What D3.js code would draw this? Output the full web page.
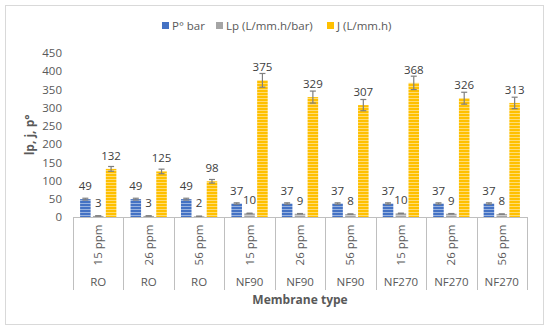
<!DOCTYPE html>
<html lang="en">
<head>
  <meta charset="UTF-8">
  <title>Membrane chart</title>
  <style>
    body { margin: 0; background: #fff; }
    svg text { font-family: "Open Sans", "Liberation Sans", sans-serif; }
  </style>
</head>
<body>
  <svg id="chart" width="550" height="332"></svg>
  <script src="https://d3js.org/d3.v7.min.js"></script>
  <script>
    // data
    const concentrations = ['15 ppm', '26 ppm', '56 ppm', '15 ppm', '26 ppm', '56 ppm', '15 ppm', '26 ppm', '56 ppm'];
    const membranes = ['RO', 'RO', 'RO', 'NF90', 'NF90', 'NF90', 'NF270', 'NF270', 'NF270'];
    const seriesNames = ['P° bar', 'Lp (L/mm.h/bar)', 'J (L/mm.h)'];
    const pressure = [49, 49, 49, 37, 37, 37, 37, 37, 37];
    const permeability = [3, 3, 2, 10, 9, 8, 10, 9, 8];
    const flux = [132, 125, 98, 375, 329, 307, 368, 326, 313];
    const pressureErr = [2.5, 2.5, 2.5, 1.9, 1.9, 1.9, 1.9, 1.9, 1.9];
    const permeabilityErr = [0.2, 0.2, 0.1, 0.5, 0.5, 0.4, 0.5, 0.5, 0.4];
    const fluxErr = [6.6, 6.3, 4.9, 18.8, 16.5, 15.4, 18.4, 16.3, 15.7];
    const yTicks = [0, 50, 100, 150, 200, 250, 300, 350, 400, 450];

    const colors = ['#4472C4', '#A5A5A5', '#FFC000'];
    const series = [pressure, permeability, flux];
    const errors = [pressureErr, permeabilityErr, fluxErr];

    const svg = d3.select('#chart');

    // outer frame
    svg.append('rect')
      .attr('x', 5.5).attr('y', 5.5)
      .attr('width', 538).attr('height', 319)
      .attr('fill', '#fff').attr('stroke', '#d9d9d9');

    // stripe patterns
    const defs = svg.append('defs');
    colors.forEach((c, i) => {
      const p = defs.append('pattern')
        .attr('id', 'stripe' + i)
        .attr('patternUnits', 'userSpaceOnUse')
        .attr('width', 6).attr('height', 3);
      p.append('rect').attr('width', 6).attr('height', 3).attr('fill', c);
      p.append('rect').attr('y', 2).attr('width', 6).attr('height', 1)
        .attr('fill', '#fff').attr('opacity', 0.45);
    });

    const plotLeft = 73, plotRight = 527, plotTop = 53, plotBottom = 217;

    const x = d3.scaleBand()
      .domain(d3.range(concentrations.length))
      .range([plotLeft, plotRight]);

    const xInner = d3.scaleBand()
      .domain(d3.range(3))
      .range([0, x.bandwidth()])
      .paddingInner(0.18)
      .paddingOuter(0.55);

    const y = d3.scaleLinear()
      .domain([0, 450])
      .range([plotBottom, plotTop]);

    // y axis (labels only)
    const yAxis = d3.axisLeft(y).tickValues(yTicks).tickSize(0).tickPadding(0);
    const yg = svg.append('g')
      .attr('transform', `translate(${plotLeft - 11},0)`)
      .call(yAxis);
    yg.select('.domain').remove();
    yg.selectAll('text')
      .attr('fill', '#595959')
      .style('font-size', '11.5px');

    // bars
    const groups = svg.append('g').selectAll('g')
      .data(d3.range(concentrations.length))
      .join('g')
      .attr('transform', i => `translate(${x(i)},0)`);

    series.forEach((vals, s) => {
      groups.append('rect')
        .attr('x', xInner(s))
        .attr('width', xInner.bandwidth())
        .attr('y', i => y(vals[i]))
        .attr('height', i => plotBottom - y(vals[i]))
        .attr('fill', `url(#stripe${s})`);

      // error bars
      const eb = groups.append('g').attr('stroke', '#7f7f7f').attr('stroke-width', 1.2);
      const cx = xInner(s) + xInner.bandwidth() / 2;
      eb.append('line')
        .attr('x1', cx).attr('x2', cx)
        .attr('y1', i => y(vals[i] + errors[s][i]))
        .attr('y2', i => y(vals[i] - errors[s][i]));
      [1, -1].forEach(sign => {
        eb.append('line')
          .attr('x1', cx - 3).attr('x2', cx + 3)
          .attr('y1', i => y(vals[i] + sign * errors[s][i]))
          .attr('y2', i => y(vals[i] + sign * errors[s][i]));
      });

      // value labels
      groups.append('text')
        .attr('x', cx)
        .attr('y', i => y(vals[i]) - 9)
        .attr('text-anchor', 'middle')
        .attr('fill', '#404040')
        .style('font-size', '11.5px')
        .text(i => vals[i]);
    });

    // category axis (two levels)
    const axisG = svg.append('g').attr('stroke', '#bfbfbf');
    axisG.append('line')
      .attr('x1', plotLeft).attr('x2', plotRight)
      .attr('y1', plotBottom + 0.5).attr('y2', plotBottom + 0.5);
    d3.range(concentrations.length + 1).forEach(i => {
      const xx = Math.round(i < concentrations.length ? x(i) : plotRight) + 0.5;
      axisG.append('line')
        .attr('x1', xx).attr('x2', xx)
        .attr('y1', plotBottom).attr('y2', 290);
    });

    svg.append('g').selectAll('text')
      .data(concentrations)
      .join('text')
      .attr('transform', (d, i) => `translate(${x(i) + x.bandwidth() / 2 + 4},245) rotate(-90)`)
      .attr('text-anchor', 'middle')
      .attr('fill', '#595959')
      .style('font-size', '11.5px')
      .text(d => d);

    svg.append('g').selectAll('text')
      .data(membranes)
      .join('text')
      .attr('x', (d, i) => x(i) + x.bandwidth() / 2)
      .attr('y', 286)
      .attr('text-anchor', 'middle')
      .attr('fill', '#595959')
      .style('font-size', '11.5px')
      .text(d => d);

    // axis titles
    svg.append('text')
      .attr('x', 300).attr('y', 304)
      .attr('text-anchor', 'middle')
      .attr('fill', '#595959')
      .style('font-size', '12px')
      .style('font-weight', 'bold')
      .text('Membrane type');

    svg.append('text')
      .attr('transform', 'translate(34,135) rotate(-90)')
      .attr('text-anchor', 'middle')
      .attr('fill', '#595959')
      .style('font-size', '12px')
      .style('font-weight', 'bold')
      .text('lp, j, p°');

    // legend
    const legendX = [162, 216, 327];
    const legend = svg.append('g').selectAll('g')
      .data(seriesNames)
      .join('g')
      .attr('transform', (d, i) => `translate(${legendX[i]},22)`);
    legend.append('rect')
      .attr('width', 7).attr('height', 7)
      .attr('fill', (d, i) => colors[i]);
    legend.append('text')
      .attr('x', 10).attr('y', 7.5)
      .attr('fill', '#595959')
      .style('font-size', '11.5px')
      .text(d => d);
  </script>
</body>
</html>
